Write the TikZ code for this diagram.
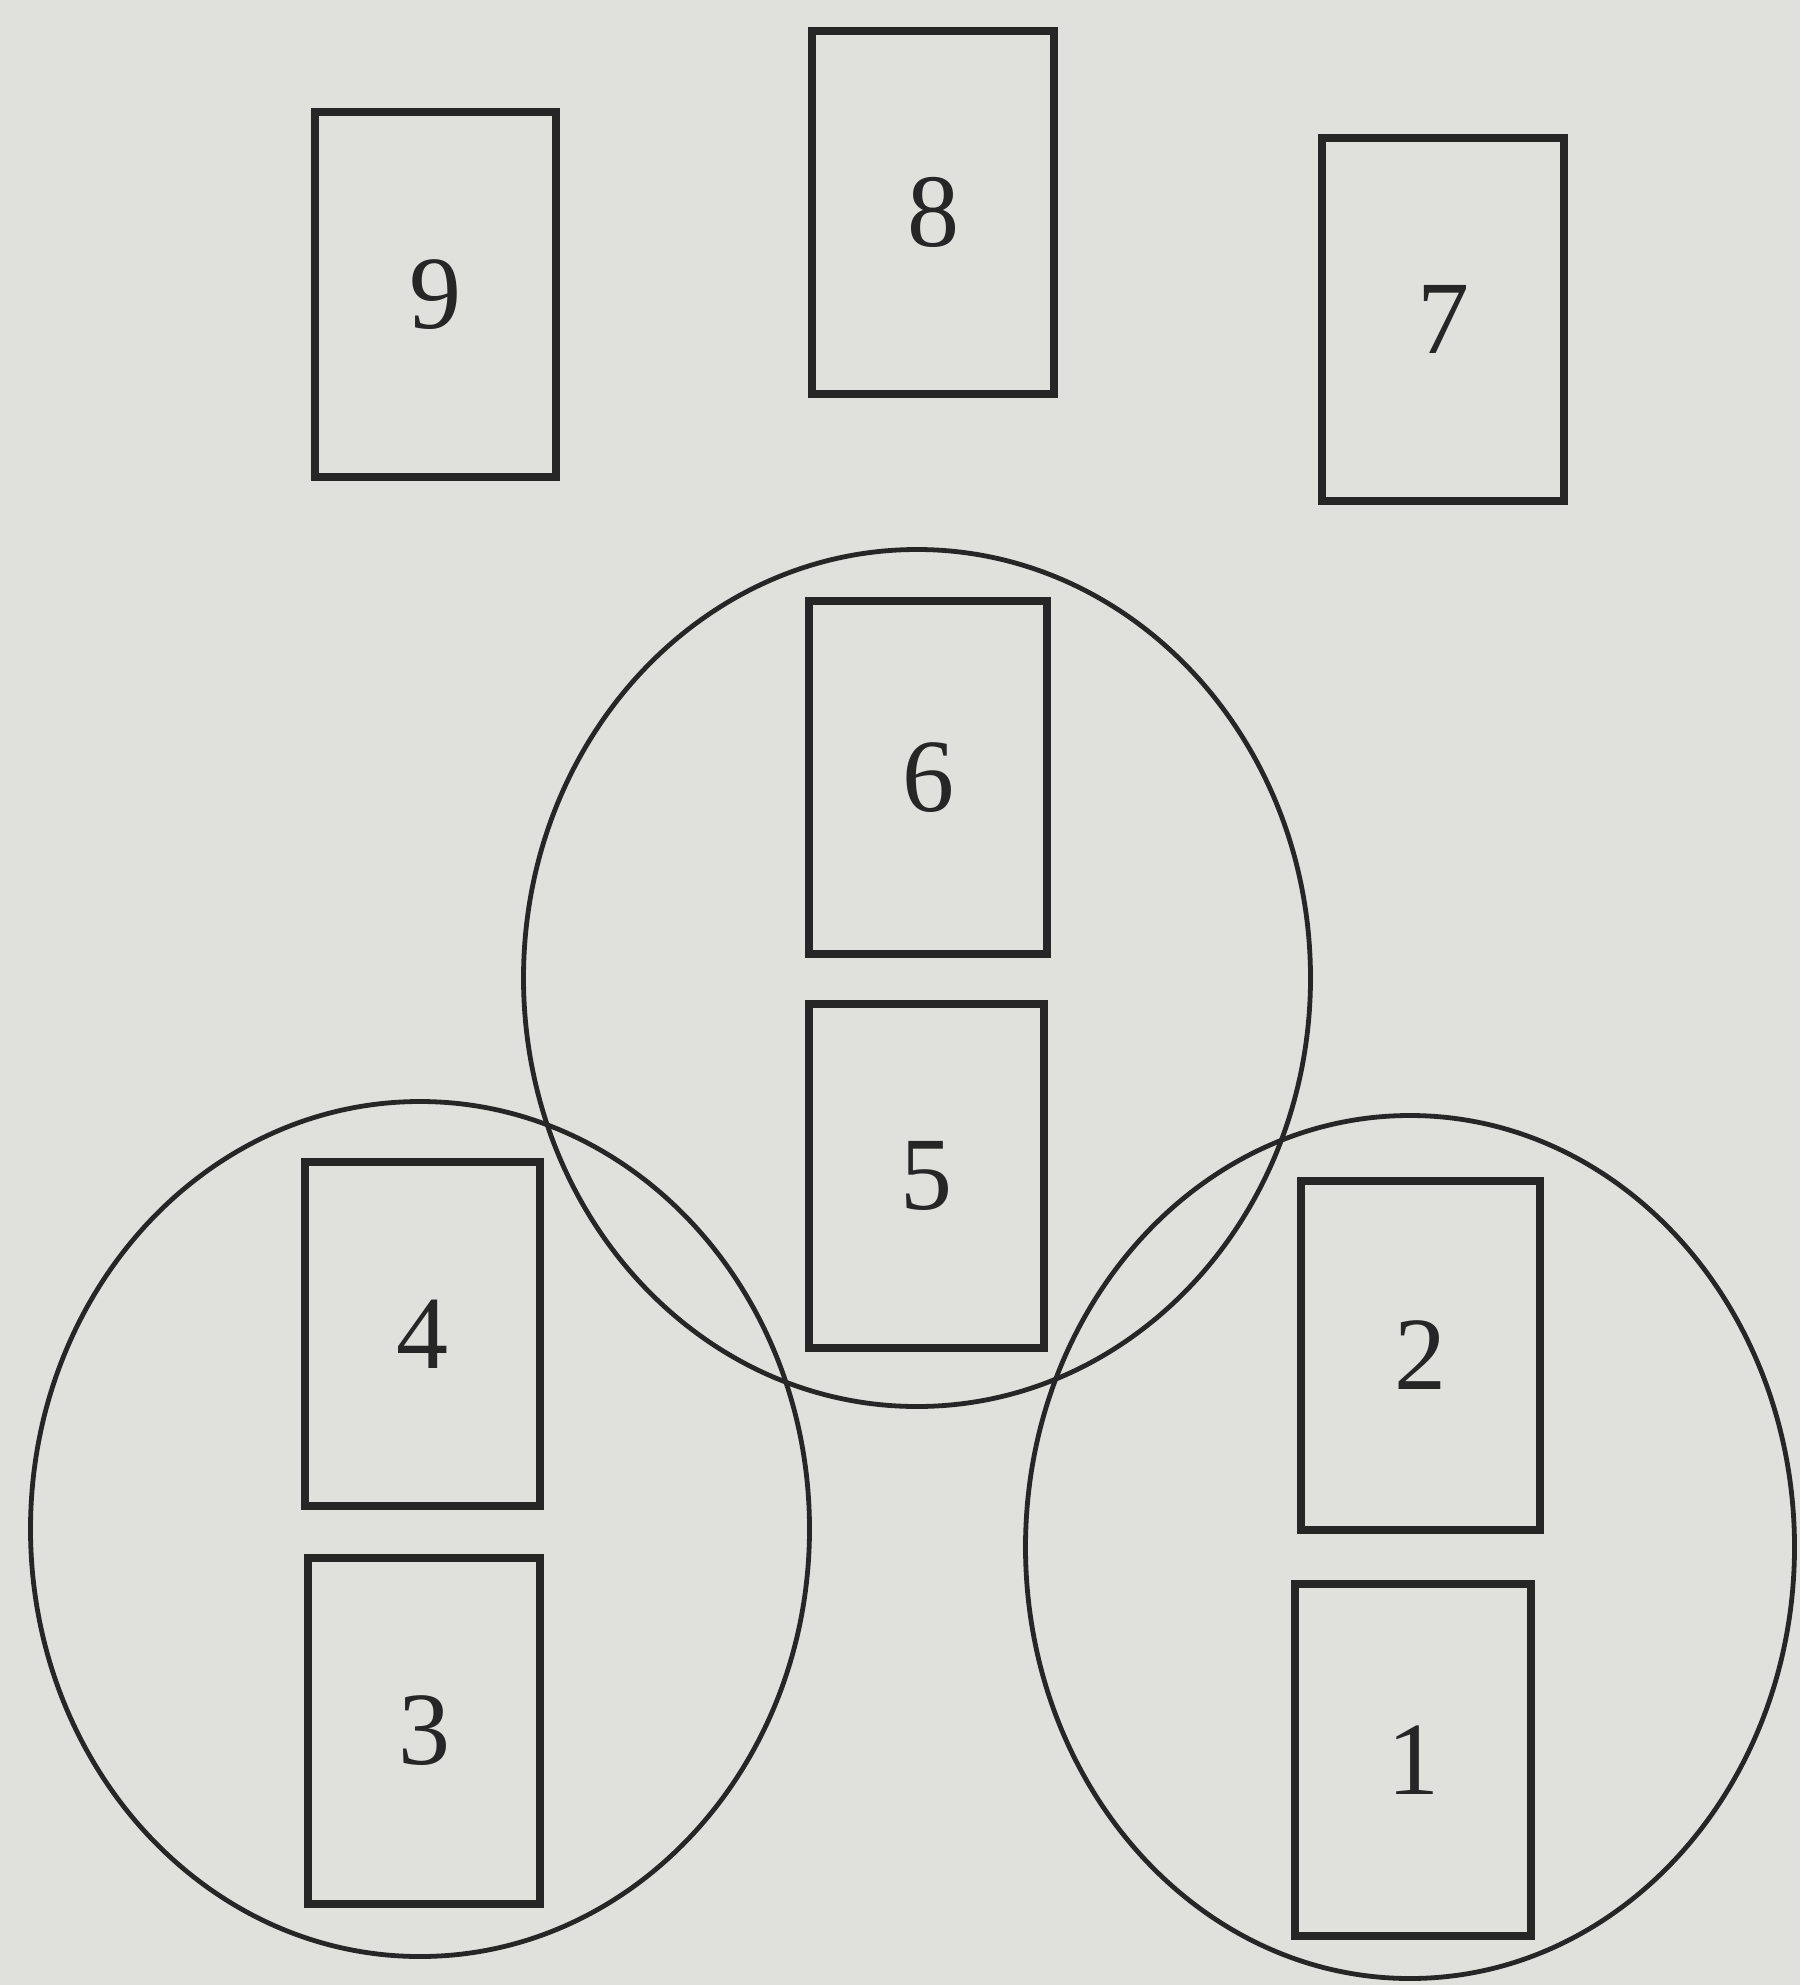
\documentclass[tikz,border=0pt]{standalone}
\usepackage{fontspec}
\setmainfont{Liberation Serif}
\usetikzlibrary{shapes.geometric}
\definecolor{paper}{RGB}{224,224,221}
\definecolor{ink}{RGB}{38,38,38}
\begin{document}
\begin{tikzpicture}[x=0.5pt,y=-0.5pt,
  card/.style={draw=ink, line width=3.8pt, rectangle, inner sep=0pt,
    font=\fontsize{52}{60}\selectfont, text=ink},
  ring/.style={draw=ink, line width=2.4pt, ellipse, inner sep=0pt}]
\fill[paper] (0,0) rectangle (1800,1985);
\useasboundingbox (0,0) rectangle (1800,1985);
% rings
\node[ring, minimum width=393.5pt, minimum height=428.5pt] (rc) at (917,978) {};
\node[ring, minimum width=389.5pt, minimum height=427.5pt] (rl) at (420,1529) {};
\node[ring, minimum width=384.5pt, minimum height=431.5pt] (rr) at (1410,1547) {};
% cards
\node[card, minimum width=120.5pt, minimum height=182.5pt] (c9) at (435.5,294.5) {9};
\node[card, minimum width=121pt, minimum height=181.5pt] (c8) at (933,212.5) {8};
\node[card, minimum width=121pt, minimum height=181.5pt] (c7) at (1443,319.5) {7};
\node[card, minimum width=119pt, minimum height=176.5pt] (c6) at (928,777.5) {6};
\node[card, minimum width=117.5pt, minimum height=172pt] (c5) at (926.5,1176) {5};
\node[card, minimum width=117.5pt, minimum height=172pt] (c4) at (422.5,1334) {4};
\node[card, minimum width=116pt, minimum height=173pt] (c3) at (424,1731) {3};
\node[card, minimum width=119.5pt, minimum height=174.5pt] (c2) at (1420.5,1355.5) {2};
\node[card, minimum width=118pt, minimum height=176pt] (c1) at (1413,1760) {1};
\end{tikzpicture}
\end{document}
